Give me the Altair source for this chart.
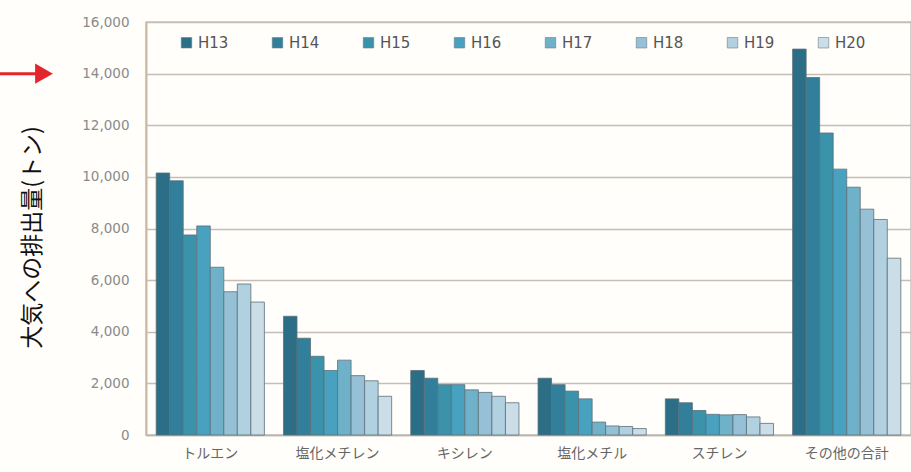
import altair as alt
import pandas as pd

# Substances (x categories) and fiscal years (series)
substances = ["トルエン", "塩化メチレン", "キシレン", "塩化メチル", "スチレン", "その他の合計"]
years = ["H13", "H14", "H15", "H16", "H17", "H18", "H19", "H20"]

# Emissions to air (tonnes) per substance, one list per year
h13 = [10150, 4600, 2500, 2200, 1400, 14950]
h14 = [9850, 3750, 2200, 1950, 1250, 13850]
h15 = [7750, 3050, 1950, 1700, 950, 11700]
h16 = [8100, 2500, 1950, 1400, 800, 10300]
h17 = [6500, 2900, 1750, 500, 780, 9600]
h18 = [5550, 2300, 1650, 350, 790, 8750]
h19 = [5850, 2100, 1500, 330, 700, 8350]
h20 = [5150, 1500, 1250, 250, 450, 6850]

year_colors = ["#2b6e86", "#317f9a", "#3a93aa", "#48a2bf",
               "#6fb1c9", "#95c0d6", "#b2d1e0", "#cbdde6"]

series = [h13, h14, h15, h16, h17, h18, h19, h20]
rows = []
for yr, vals in zip(years, series):
    for sub, v in zip(substances, vals):
        rows.append({"substance": sub, "year": yr, "value": v})
df = pd.DataFrame(rows)

bars = alt.Chart(df).mark_bar(stroke="#5b707a", strokeWidth=0.8).encode(
    x=alt.X("substance:N", sort=substances, title=None,
            scale=alt.Scale(paddingInner=0.15, paddingOuter=0.08),
            axis=alt.Axis(labelAngle=0, labelFont="Noto Sans CJK JP",
                          labelFontSize=14, labelColor="#666666",
                          labelPadding=11, ticks=False, domain=True,
                          domainColor="#bdb3a8", domainWidth=1.5)),
    xOffset=alt.XOffset("year:N", sort=years),
    y=alt.Y("value:Q", title="大気への排出量(トン)",
            scale=alt.Scale(domain=[0, 16000], nice=False),
            axis=alt.Axis(values=list(range(0, 16001, 2000)), format=",.0f",
                          labelFont="DejaVu Sans", labelFontSize=13.5,
                          labelColor="#8a8a8a", labelPadding=17,
                          ticks=False, domainColor="#cbb9a2", domainWidth=2,
                          gridColor="#c6beb6", gridWidth=1.5,
                          titleFont="Noto Sans CJK JP", titleFontSize=23,
                          titleFontWeight="normal", titleColor="#111111",
                          titleAngle=270, titleX=-114, titleY=215,
                          titleAlign="center", titleBaseline="middle")),
    color=alt.Color("year:N", sort=years,
                    scale=alt.Scale(domain=years, range=year_colors),
                    legend=alt.Legend(orient="none", legendX=33, legendY=13,
                                      direction="horizontal", columns=8,
                                      title=None, symbolType="square",
                                      symbolSize=110, symbolStrokeColor="#6a8089",
                                      symbolStrokeWidth=0.6, symbolOpacity=1,
                                      labelFont="DejaVu Sans", labelFontSize=15,
                                      labelColor="#555555", labelOffset=4,
                                      columnPadding=41)),
)

# Red pointer arrow at the 14,000 level
arrow_df = pd.DataFrame({"value": [14000]})
arrow_line = alt.Chart(arrow_df).mark_rule(color="#e3262b", strokeWidth=3).encode(
    x=alt.value(-146), x2=alt.value(-106), y="value:Q")
arrow_head = alt.Chart(arrow_df).mark_point(
    shape="triangle-right", filled=True, color="#e3262b", opacity=1, size=420
).encode(x=alt.value(-102), y="value:Q")

chart = alt.layer(bars, arrow_line, arrow_head).properties(
    width=765, height=413,
    autosize=alt.AutoSizeParams(type="none"),
    padding={"left": 146, "top": 22, "right": 0, "bottom": 37},
    background="#fffefb",
).configure_view(stroke="#c4c4c4", strokeWidth=1.5)

chart.save("out.html", embed_options={"renderer": "svg", "actions": False})
